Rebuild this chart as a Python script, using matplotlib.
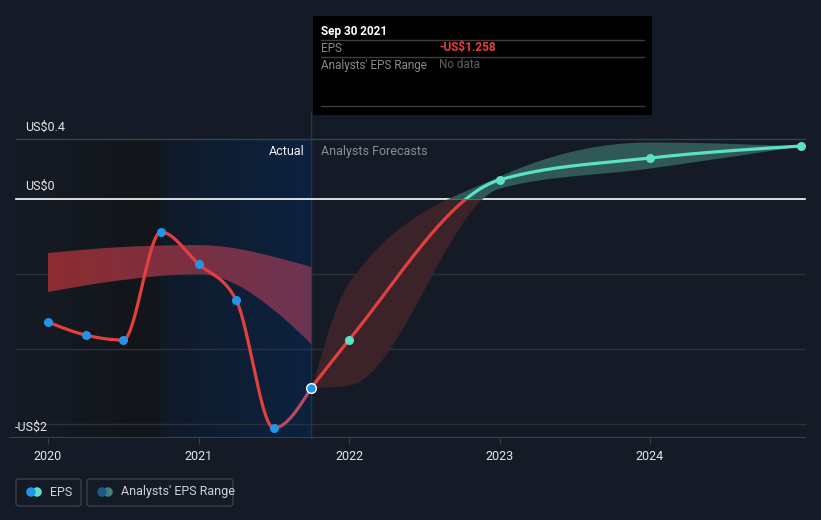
import numpy as np
import matplotlib
matplotlib.use("Agg")
import matplotlib.pyplot as plt
from matplotlib.patches import Rectangle, FancyBboxPatch, Ellipse, Polygon

plt.rcParams['font.family'] = ['Roboto', 'DejaVu Sans']

# Data
actual_t = [2020.0, 2020.25, 2020.5, 2020.75, 2021.0, 2021.25, 2021.5, 2021.75]
actual_eps = [-0.82, -0.907, -0.94, -0.22, -0.433, -0.673, -1.527, -1.258]

fc_t = [2021.75, 2022.0, 2023.0, 2024.0, 2025.0]
fc_eps = [-1.258, -0.94, 0.127, 0.273, 0.353]
fc_lo = [-1.258, -1.24, 0.073, 0.207, 0.353]
fc_hi = [-1.258, -0.553, 0.153, 0.38, 0.353]

past_t = [2020.0, 2020.5, 2021.0, 2021.25, 2021.5, 2021.75]
past_lo = [-0.62, -0.54, -0.50, -0.57, -0.74, -0.967]
past_hi = [-0.36, -0.32, -0.307, -0.33, -0.385, -0.453]

years = [2020, 2021, 2022, 2023, 2024]
grid_vals = [-0.5, -1.0, -1.5]

BG = '#151b26'
W, H = 821, 520


def monotone(xs, ys, n=60):
    # d3 curveMonotoneX style interpolation
    xs = np.asarray(xs, float)
    ys = np.asarray(ys, float)
    h = np.diff(xs)
    s = np.diff(ys) / h
    t = np.zeros(len(xs))
    for i in range(1, len(xs) - 1):
        p = (s[i - 1] * h[i] + s[i] * h[i - 1]) / (h[i - 1] + h[i])
        t[i] = (np.sign(s[i - 1]) + np.sign(s[i])) * min(abs(s[i - 1]), abs(s[i]), 0.5 * abs(p))
    if len(xs) > 2:
        t[0] = (3 * s[0] - t[1]) / 2
        t[-1] = (3 * s[-1] - t[-2]) / 2
    else:
        t[:] = s[0]
    ox, oy = [], []
    for i in range(len(xs) - 1):
        u = np.linspace(0, 1, n)
        h00 = 2 * u**3 - 3 * u**2 + 1
        h10 = u**3 - 2 * u**2 + u
        h01 = -2 * u**3 + 3 * u**2
        h11 = u**3 - u**2
        yy = h00 * ys[i] + h10 * h[i] * t[i] + h01 * ys[i + 1] + h11 * h[i] * t[i + 1]
        ox.append(xs[i] + u * h[i])
        oy.append(yy)
    return np.concatenate(ox), np.concatenate(oy)


def px(x, y):
    return x / W, 1 - y / H


fig = plt.figure(figsize=(W / 100, H / 100), dpi=100, facecolor=BG)
ax = fig.add_axes([0, (H - 438) / H, 1, (438 - 115) / H])
ax.set_facecolor(BG)
x0 = 2020 - 48 / 150.5
x1 = 2020 + (W - 48) / 150.5
ymin, ymax = (199 - 438) / 150, (199 - 115) / 150
ax.set_xlim(x0, x1)
ax.set_ylim(ymin, ymax)
for sp in ax.spines.values():
    sp.set_visible(False)

# background shading
xl = 2020 - 32 / 150.5
grad = np.linspace(0, 1, 256).reshape(1, -1)
cmap_dark = matplotlib.colors.LinearSegmentedColormap.from_list('d', [BG, '#121519'])
ax.imshow(grad, extent=[xl, 2020.75, ymin, 0.4], aspect='auto', cmap=cmap_dark, zorder=0)
cmap_blue = matplotlib.colors.LinearSegmentedColormap.from_list('b', ['#101a29', '#0c2240'])
ax.imshow(grad, extent=[2020.75, 2021.75, ymin, 0.4], aspect='auto', cmap=cmap_blue, zorder=0)
ax.plot([2021.75, 2021.75], [ymin, ymax + 0.02], color='#1b3556', lw=1, zorder=1, clip_on=False)

# grid
gx0 = 2020 - 32 / 150.5
gx1 = 2020 + (805 - 48) / 150.5
for g in grid_vals:
    ax.plot([gx0, gx1], [g, g], color='#2c323c', lw=1, zorder=1)
ax.plot([gx0, gx1], [0.4, 0.4], color='#3a404a', lw=1, zorder=1)
ax.plot([gx0, gx1], [0, 0], color='white', lw=1.2, zorder=2)
ax.plot([2020 - 38 / 150.5, gx1], [ymin + 0.003, ymin + 0.003], color='#3a404a', lw=1.5, zorder=2)

# past analyst range, gradient red -> purple, clipped to band shape
bx, blo = monotone(past_t, past_lo)
_, bhi = monotone(past_t, past_hi)
band = Polygon(np.column_stack([np.r_[bx, bx[::-1]], np.r_[blo, bhi[::-1]]]),
               closed=True, facecolor='none', edgecolor='none', transform=ax.transData)
ax.add_patch(band)
cmap_band = matplotlib.colors.LinearSegmentedColormap.from_list('r', ['#8c2c30', '#6c3452'])
im = ax.imshow(grad, extent=[bx[0], bx[-1], min(blo), max(bhi)], aspect='auto',
               cmap=cmap_band, zorder=3, interpolation='bilinear')
im.set_clip_path(band)

# forecast range
fx, flo = monotone(fc_t, fc_lo)
_, fhi = monotone(fc_t, fc_hi)
ax.fill_between(fx, np.clip(flo, None, 0), np.clip(fhi, None, 0), color='#3c2329', lw=0, zorder=3)
ax.fill_between(fx, np.clip(flo, 0, None), np.clip(fhi, 0, None), color='#2f5857', lw=0, zorder=3)

# actual line
ax_, ay_ = monotone(actual_t, actual_eps)
main = ax_ <= 2021.5
ax.plot(ax_[main], ay_[main], color='#e2403e', lw=2.3, zorder=4, solid_capstyle='round')
ax.plot(ax_[ax_ >= 2021.5], ay_[ax_ >= 2021.5], color='#b84a5c', lw=2.3, zorder=4, solid_capstyle='round')
ax.plot(actual_t[:-1], actual_eps[:-1], 'o', color='#2394e8', ms=6.5, mec='none', zorder=6)
ax.plot(actual_t[-1], actual_eps[-1], 'o', color='#2394e8', ms=7, mec='white', mew=1, zorder=7)

# forecast line, red below zero, teal above
fex, fey = monotone(fc_t, fc_eps)
l1, = ax.plot(fex, fey, color='#e2403e', lw=2.3, zorder=5)
l1.set_clip_path(Rectangle((x0, ymin), x1 - x0, -ymin, transform=ax.transData))
l2, = ax.plot(fex, fey, color='#5ce0c6', lw=2.3, zorder=5)
l2.set_clip_path(Rectangle((x0, 0), x1 - x0, ymax, transform=ax.transData))
ax.plot(fc_t[1:], fc_eps[1:], 'o', color='#5ce0c6', ms=6.5, mec='none', zorder=6, clip_on=False)

# ticks
ax.set_xticks(years)
ax.set_xticklabels([str(y) for y in years])
ax.set_yticks([])
ax.tick_params(axis='x', length=4, color='#3a404a', labelcolor='#e6e6e6', labelsize=9, pad=5)

# y labels
fig.text(*px(25, 127), 'US$0.4', color='#e6e6e6', fontsize=9, va='center')
fig.text(*px(25, 186), 'US$0', color='#e6e6e6', fontsize=9, va='center')
fig.text(*px(15, 427), '-US$2', color='#e6e6e6', fontsize=9, va='center')

fig.text(*px(305, 151), 'Actual', color='#f0f0f0', fontsize=9, va='center', ha='right')
fig.text(*px(321, 151), 'Analysts Forecasts', color='#8a8d93', fontsize=9, va='center')

# tooltip
fig.patches.append(Rectangle(px(313, 115), 339 / W, 99 / H, transform=fig.transFigure,
                             facecolor='black', edgecolor='none', zorder=10))
for yy in [40, 57, 106]:
    fig.add_artist(matplotlib.lines.Line2D([321 / W, 644 / W], [1 - yy / H, 1 - yy / H],
                                           color='#3e3e3e', lw=1, zorder=11))
fig.text(*px(321, 31), 'Sep 30 2021', color='white', fontsize=8.5, fontweight='bold', va='center', zorder=12)
fig.text(*px(321, 48), 'EPS', color='#8a8a8a', fontsize=8.5, va='center', zorder=12)
fig.text(*px(439, 48), '-US$1.258', color='#e8413f', fontsize=8.5, fontweight='bold', va='center', zorder=12)
fig.text(*px(321, 65), "Analysts' EPS Range", color='#8a8a8a', fontsize=8.5, va='center', zorder=12)
fig.text(*px(439, 65), 'No data', color='#5f5f5f', fontsize=8.5, va='center', zorder=12)

# legend
for (lx, lw_, c_a, c_b, label) in [(16, 65, '#2394e8', '#5ce0c6', 'EPS'),
                                   (87, 146, '#1f5a86', '#3c8276', "Analysts' EPS Range")]:
    fig.patches.append(FancyBboxPatch(px(lx, 506), lw_ / W, 27 / H, boxstyle='round,pad=0,rounding_size=0.004',
                                      transform=fig.transFigure, facecolor='none', edgecolor='#3a3f48', lw=1))
    fig.patches.append(Ellipse(px(lx + 21, 492), 9.5 / W, 9.5 / H, transform=fig.transFigure,
                               facecolor=c_b, edgecolor='none'))
    fig.patches.append(Ellipse(px(lx + 15, 492), 9.5 / W, 9.5 / H, transform=fig.transFigure,
                               facecolor=c_a, edgecolor='none'))
    fig.text(*px(lx + 34, 492), label, color='#d0d2d6', fontsize=9, va='center')

fig.savefig('out.png', dpi=100, facecolor=BG)
